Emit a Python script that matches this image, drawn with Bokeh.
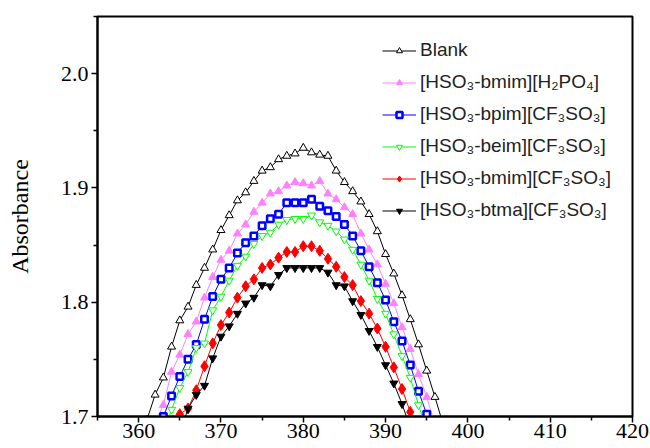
from bokeh.plotting import figure
from bokeh.models import (Range1d, FixedTicker, Legend, LegendItem,
                          NumeralTickFormatter)
from bokeh.embed import file_html
from bokeh.resources import INLINE

# ---- data -------------------------------------------------------------
blank_x = list(range(361, 398))
blank_y = [1.697, 1.719, 1.734, 1.761, 1.784, 1.796, 1.815, 1.830, 1.846, 1.863,
           1.876, 1.889, 1.896, 1.906, 1.915, 1.918, 1.925, 1.928, 1.930, 1.935,
           1.931, 1.929, 1.928, 1.915, 1.905, 1.897, 1.888, 1.877, 1.862, 1.842,
           1.825, 1.806, 1.785, 1.763, 1.740, 1.717, 1.693]

h2po4_x = list(range(362, 397))
h2po4_y = [1.694, 1.710, 1.739, 1.754, 1.772, 1.783, 1.804, 1.822, 1.837,
           1.845, 1.860, 1.868, 1.879, 1.887, 1.895, 1.897, 1.902, 1.905, 1.904,
           1.902, 1.906, 1.895, 1.890, 1.883, 1.877, 1.860, 1.846, 1.833, 1.816,
           1.799, 1.778, 1.759, 1.737, 1.717, 1.693]

bpim_x = list(range(362, 397))
bpim_y = [1.682, 1.700, 1.718, 1.735, 1.750, 1.763, 1.785, 1.805, 1.820,
          1.830, 1.843, 1.852, 1.858, 1.867, 1.873, 1.877, 1.887, 1.887, 1.887,
          1.890, 1.884, 1.880, 1.875, 1.868, 1.858, 1.845, 1.831, 1.817, 1.802,
          1.783, 1.766, 1.745, 1.722, 1.702, 1.681]

beim_x = list(range(363, 396))
beim_y = [1.686, 1.706, 1.725, 1.739, 1.760, 1.764, 1.793, 1.805,
          1.819, 1.832, 1.840, 1.851, 1.858, 1.861, 1.868, 1.872, 1.873, 1.873,
          1.876, 1.870, 1.867, 1.862, 1.855, 1.846, 1.833, 1.819, 1.803, 1.790,
          1.772, 1.753, 1.734, 1.710, 1.688]

bmim_x = list(range(364, 395))
bmim_y = [1.690, 1.702, 1.707, 1.723, 1.744, 1.764, 1.780,
          1.791, 1.804, 1.814, 1.820, 1.830, 1.833, 1.839, 1.844, 1.844, 1.849,
          1.849, 1.845, 1.838, 1.831, 1.822, 1.815, 1.801, 1.790, 1.777, 1.761,
          1.743, 1.724, 1.704, 1.684]

btma_x = list(range(365, 394))
btma_y = [1.685, 1.707, 1.719, 1.727, 1.751, 1.770,
          1.779, 1.790, 1.799, 1.804, 1.815, 1.814, 1.824, 1.830, 1.830, 1.830,
          1.830, 1.830, 1.826, 1.815, 1.814, 1.801, 1.789, 1.775, 1.761, 1.745,
          1.729, 1.711, 1.690]

series_labels = ["Blank",
                 "[HSO\u2083-bmim][H\u2082PO\u2084]",
                 "[HSO\u2083-bpim][CF\u2083SO\u2083]",
                 "[HSO\u2083-beim][CF\u2083SO\u2083]",
                 "[HSO\u2083-bmim][CF\u2083SO\u2083]",
                 "[HSO\u2083-btma][CF\u2083SO\u2083]"]

x_ticks = [360, 370, 380, 390, 400, 410, 420]
x_minor = [355, 365, 375, 385, 395, 405, 415]
y_ticks = [1.7, 1.8, 1.9, 2.0]
y_minor = [1.75, 1.85, 1.95, 2.05]

# ---- figure -----------------------------------------------------------
p = figure(width=650, height=448, output_backend="svg", toolbar_location=None,
           x_range=Range1d(355, 420), y_range=Range1d(1.7, 2.05),
           min_border_left=97, min_border_right=18, min_border_top=16,
           min_border_bottom=32)
p.background_fill_color = "white"
p.border_fill_color = "white"
p.outline_line_color = "black"
p.outline_line_width = 2
p.xgrid.grid_line_color = None
p.ygrid.grid_line_color = None

serif = "Liberation Serif"

xa = p.xaxis[0]
xa.ticker = FixedTicker(ticks=x_ticks, minor_ticks=x_minor)
xa.axis_line_width = 2
xa.major_tick_in = 0
xa.minor_tick_in = 0
xa.major_tick_out = 6
xa.minor_tick_out = 4
xa.major_tick_line_width = 1.5
xa.minor_tick_line_width = 1.5
xa.major_label_text_font = serif
xa.major_label_text_font_size = "22px"
xa.major_label_text_color = "black"
xa.major_label_standoff = 1

ya = p.yaxis[0]
ya.ticker = FixedTicker(ticks=y_ticks, minor_ticks=y_minor)
ya.formatter = NumeralTickFormatter(format="0.0")
ya.axis_line_width = 2
ya.major_tick_in = 0
ya.minor_tick_in = 0
ya.major_tick_out = 6
ya.minor_tick_out = 4
ya.major_tick_line_width = 1.5
ya.minor_tick_line_width = 1.5
ya.major_label_text_font = serif
ya.major_label_text_font_size = "22px"
ya.major_label_text_color = "black"
ya.major_label_standoff = 3
ya.axis_label = "Absorbance"
ya.axis_label_text_font = serif
ya.axis_label_text_font_size = "24px"
ya.axis_label_text_font_style = "normal"
ya.axis_label_text_color = "black"
ya.axis_label_standoff = 25

styles = [
    dict(color="black", marker="triangle", fill="white", size=8, lw=1),
    dict(color="#FF80FF", marker="triangle", fill="#FF80FF", size=8, lw=1),
    dict(color="#0000FF", marker="square", fill="white", size=6.5, lw=2.5),
    dict(color="#00FF00", marker="inverted_triangle", fill="white", size=8, lw=1),
    dict(color="#FF0000", marker="diamond", fill="#FF0000", size=11, lw=1),
    dict(color="black", marker="inverted_triangle", fill="black", size=8, lw=1),
]
data = [(blank_x, blank_y), (h2po4_x, h2po4_y), (bpim_x, bpim_y),
        (beim_x, beim_y), (bmim_x, bmim_y), (btma_x, btma_y)]

items = []
for (xs, ys), st, lab in zip(data, styles, series_labels):
    lr = p.line(xs, ys, line_color=st["color"], line_width=1)
    sr = p.scatter(xs, ys, marker=st["marker"], size=st["size"],
                   line_color=st["color"], fill_color=st["fill"],
                   line_width=st["lw"])
    items.append(LegendItem(label=lab, renderers=[lr, sr]))

# legend marker size follows the glyph box (0.4 * min side): small glyph_height
legend = Legend(items=items, location=(285, 192), orientation="vertical",
                glyph_width=34, glyph_height=15, label_height=28, spacing=4,
                label_standoff=4, padding=0, margin=0,
                border_line_alpha=0, background_fill_alpha=0,
                label_text_font="Liberation Sans", label_text_font_size="19px",
                label_text_color="#222222")
p.add_layout(legend)

open("out.html", "w").write(file_html(p, INLINE))
